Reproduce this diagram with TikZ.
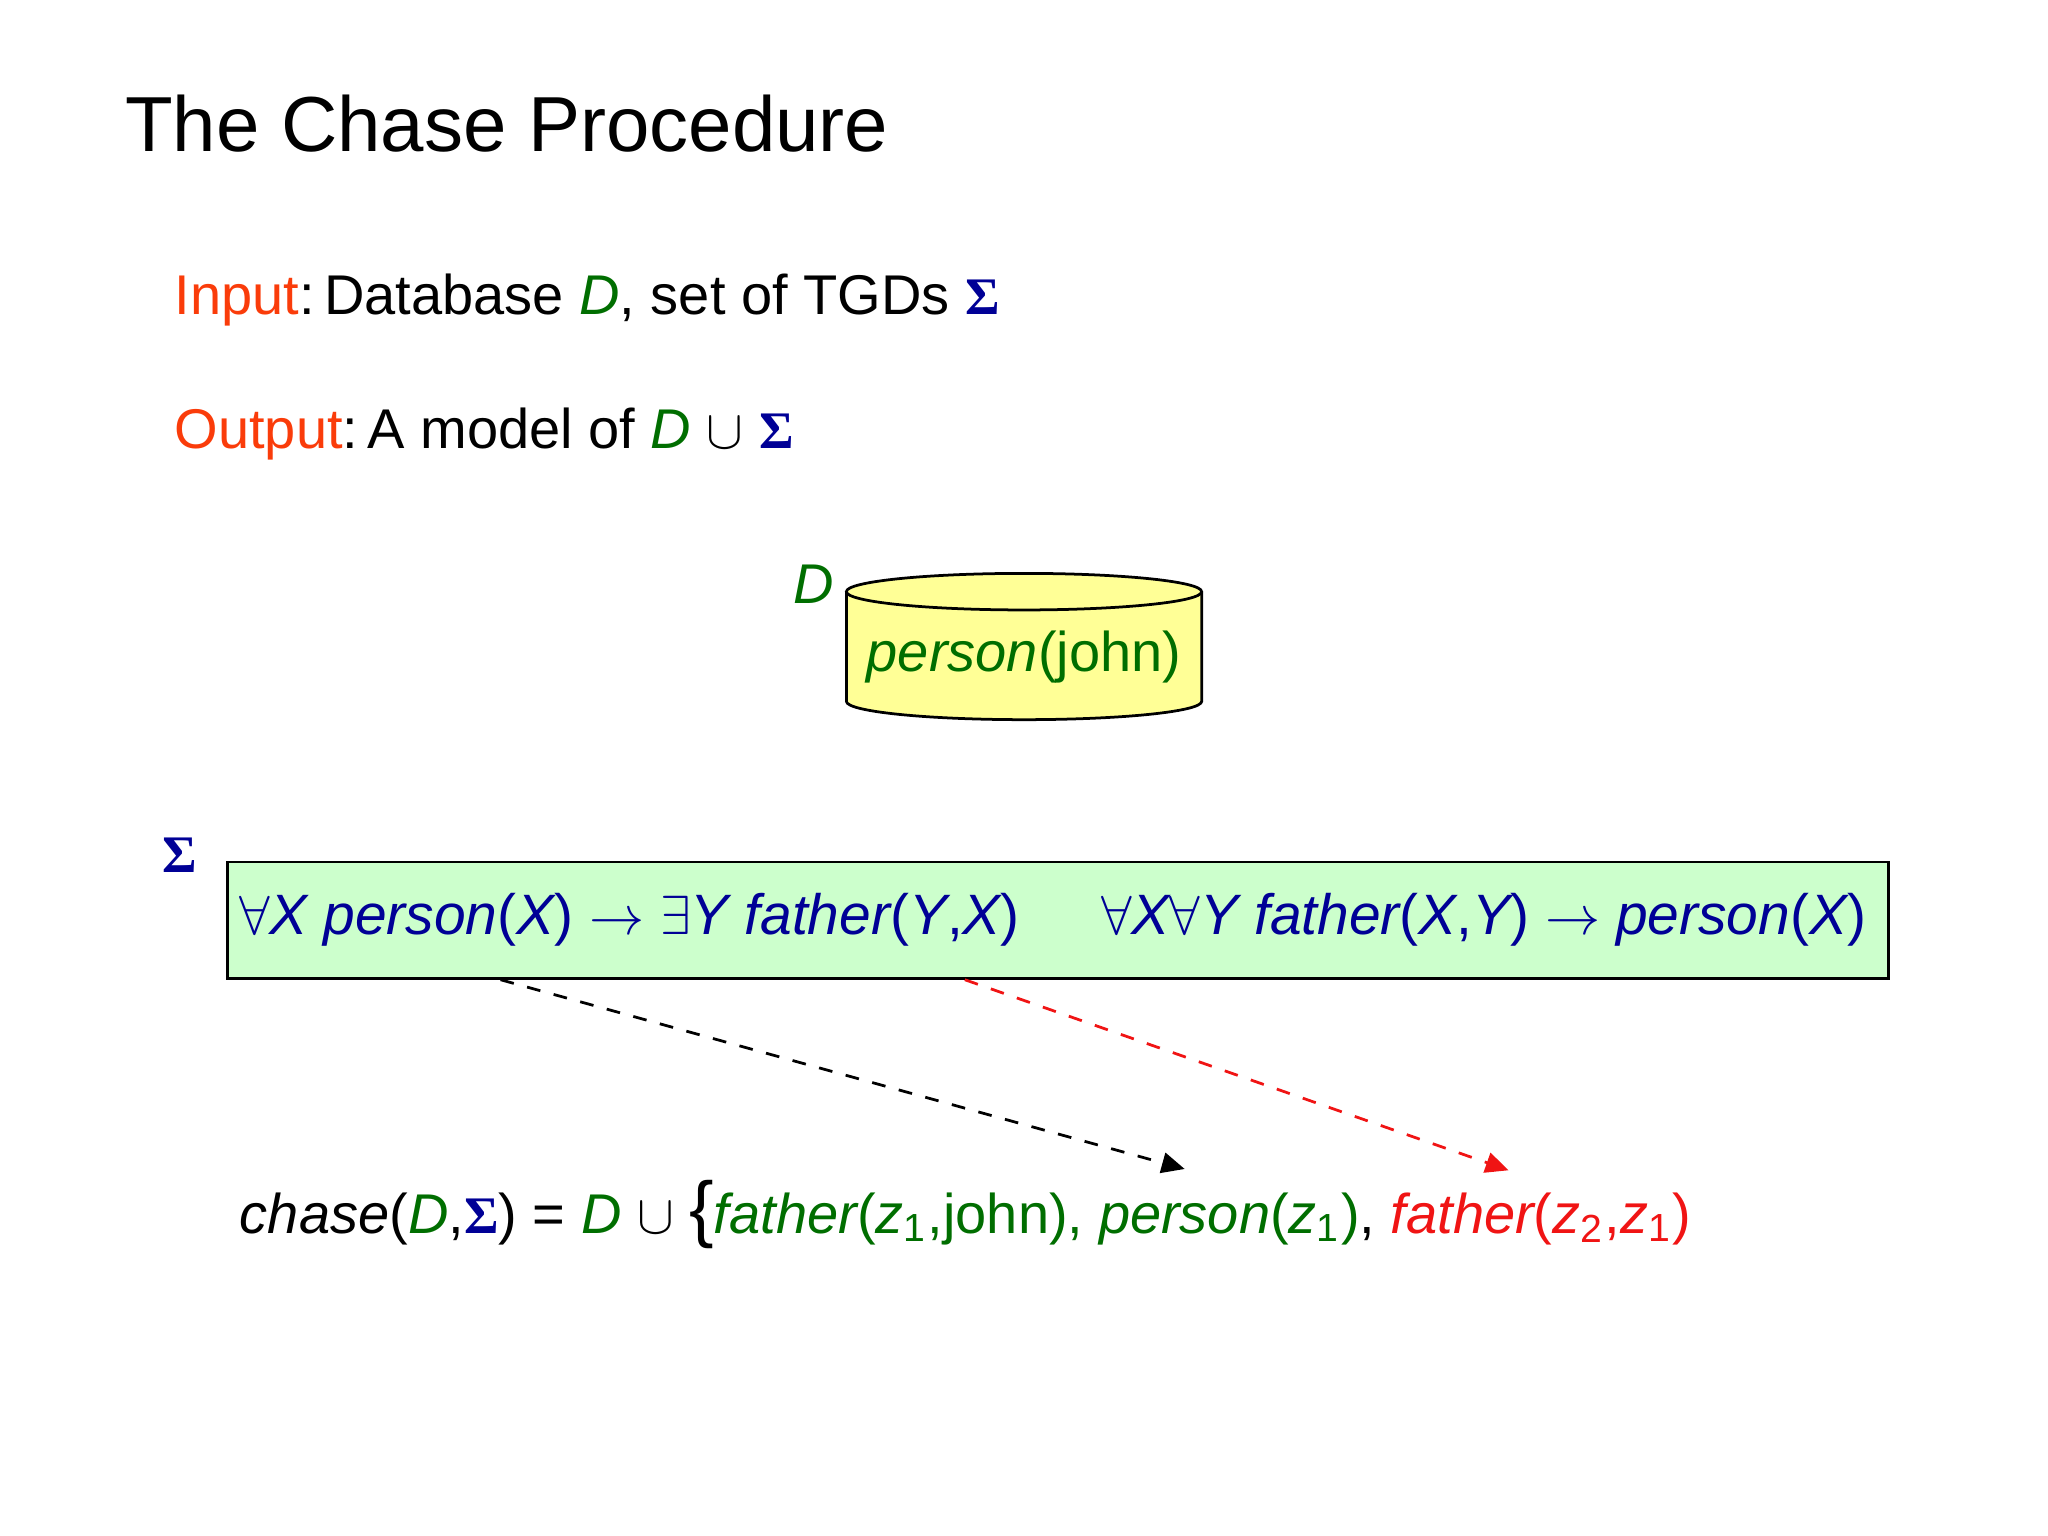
\documentclass[tikz,border=0pt]{standalone}
\usepackage{fontspec}
\setmainfont{Liberation Sans}
\newfontfamily\serifS{Liberation Serif}
\usetikzlibrary{arrows.meta,calc}
\definecolor{dg}{RGB}{0,110,0}
\definecolor{db}{RGB}{0,0,150}
\definecolor{ored}{RGB}{250,60,10}
\definecolor{rd}{RGB}{240,20,20}
\definecolor{cyl}{RGB}{255,255,150}
\definecolor{bx}{RGB}{204,255,204}
\newcommand{\Sig}{{\serifS\bfseries\color{db}\fontsize{11.5pt}{13pt}\selectfont Σ}}
\tikzset{txt/.style={anchor=west,inner sep=0pt},
 arr/.style={dashed,-{Triangle[length=5pt,width=4.5pt]},line width=0.6pt}}
\begin{document}
\begin{tikzpicture}
\useasboundingbox (0,0) rectangle (15.68,-11.76);
\node[txt,font=\fontsize{17pt}{20pt}\selectfont] (title) at (0.95,-0.95) {The Chase Procedure};
\node[txt,font=\fontsize{12.2pt}{15pt}\selectfont] (in) at (1.33,-2.30) {{\color{ored}Input}:\,Database {\color{dg}\itshape D}, set of TGDs \Sig};
\node[txt,font=\fontsize{12.2pt}{15pt}\selectfont] (out) at (1.33,-3.32) {{\color{ored}Output}:\,A model of {\color{dg}\itshape D} $\cup$ \Sig};
% cylinder
\draw[fill=cyl,line width=0.6pt] (6.48,-4.53) -- (6.48,-5.37) arc[start angle=180,end angle=360,x radius=1.36,y radius=0.14] -- (9.20,-4.53);
\draw[fill=cyl,line width=0.6pt] (7.84,-4.53) ellipse[x radius=1.36,y radius=0.14];
\node[font=\fontsize{12.2pt}{15pt}\selectfont,text=dg] (db) at (7.84,-5.03) {\itshape person\upshape(john)};
\node[font=\fontsize{12.2pt}{15pt}\selectfont\itshape,text=dg] (dl) at (6.23,-4.47) {D};
\node[font=\fontsize{12.2pt}{15pt}\selectfont] (sl) at (1.38,-6.55) {\Sig};
\node[draw,fill=bx,line width=0.6pt,minimum width=12.72cm,minimum height=0.89cm,anchor=north west,inner sep=0pt] (sig) at (1.73,-6.59) {};
\node[font=\fontsize{12.4pt}{15pt}\selectfont\itshape,text=db] (f1) at (4.82,-7.04) {$\forall$X person\upshape(\itshape X\upshape) $\rightarrow$ $\exists$\itshape Y father\upshape(\itshape Y\upshape,\itshape X\upshape)};
\node[font=\fontsize{12.4pt}{15pt}\selectfont\itshape,text=db] (f2) at (11.36,-7.04) {$\forall$X$\forall$Y father\upshape(\itshape X\upshape,\itshape Y\upshape) $\rightarrow$ \itshape person\upshape(\itshape X\upshape)};
\node[txt,font=\fontsize{12.2pt}{15pt}\selectfont] (ch) at (1.83,-9.30) {\itshape chase\upshape({\color{dg}\itshape D},\Sig) = {\color{dg}\itshape D} $\cup$ {\fontsize{16pt}{17pt}\selectfont\{}{\color{dg}\itshape father\upshape(\itshape z\textsubscript{\upshape1}\upshape,john), \itshape person\upshape(\itshape z\textsubscript{\upshape1}\upshape)}, {\color{rd}\itshape father\upshape(\itshape z\textsubscript{\upshape2}\upshape,\itshape z\textsubscript{\upshape1}\upshape)}};
\coordinate (t1) at (9.07,-8.95);
\coordinate (t2) at (11.55,-8.96);
\draw[arr,black] ($(sig.south west)!0.165!(sig.south east)$) -- (t1);
\draw[arr,rd] ($(sig.south west)!0.444!(sig.south east)$) -- (t2);
\end{tikzpicture}
\end{document}
